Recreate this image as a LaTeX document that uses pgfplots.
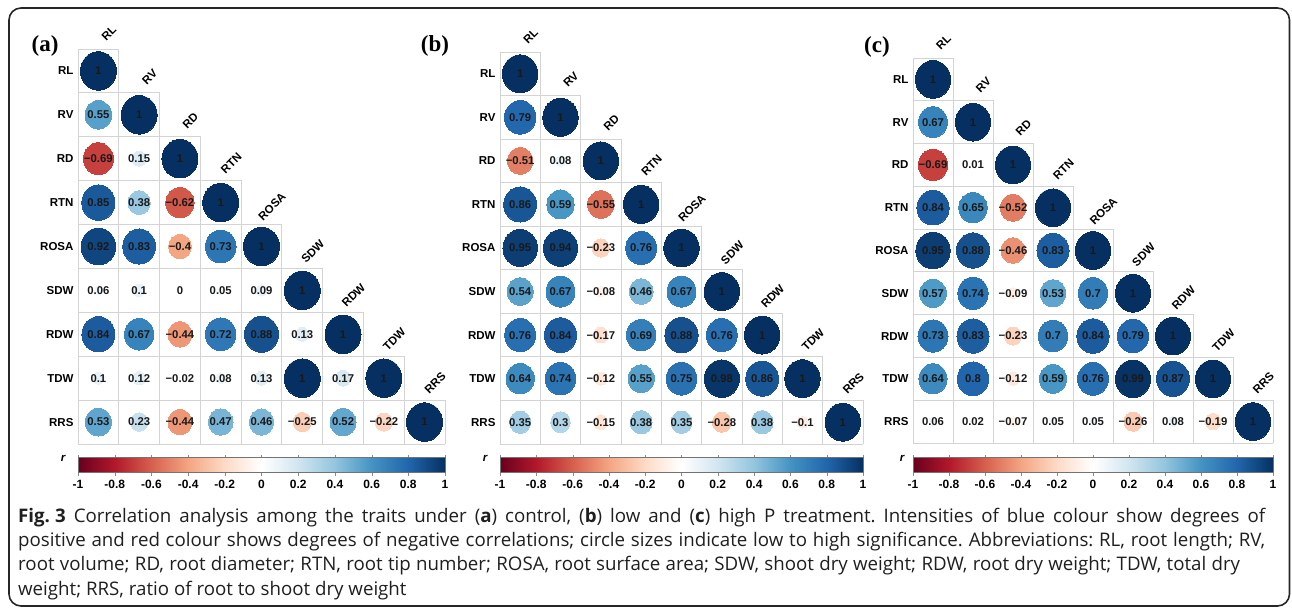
\documentclass[border=0pt]{standalone}
\usepackage{fontspec}
\setmainfont{Liberation Sans}
\newfontfamily\capfont{Open Sans}
\newfontfamily\panelfont{Liberation Serif}
\usepackage{pgfplots}
\usepackage{pgfplotstable}
\usetikzlibrary{calc}
\pgfplotsset{compat=1.18}

\pgfplotsset{colormap={rdbu}{rgb255=(103,0,31) rgb255=(178,24,43) rgb255=(214,96,77) rgb255=(244,165,130) rgb255=(253,219,199) rgb255=(255,255,255) rgb255=(209,229,240) rgb255=(146,197,222) rgb255=(67,147,195) rgb255=(33,102,172) rgb255=(5,48,97)}}

\newcommand\rowfont{\bfseries\fontsize{11.5}{12}\selectfont}
\newcommand\valfont{\bfseries\fontsize{11.3}{12}\selectfont}
\newcommand\cbfont{\bfseries\fontsize{12}{13}\selectfont}

\tikzset{
  clab/.style={rotate=45, anchor=center, font=\rowfont, inner sep=0pt},
  gridc/.style={draw=black!17, line width=0.9pt, line cap=rect},
}

\pgfplotsset{
  corrmat/.style={
    scale only axis, anchor=south west, clip=false,
    xmin=0.5, xmax=9.5, ymin=0.5, ymax=9.5,
    axis line style={draw=none}, major tick length=0pt,
    xtick=\empty, ytick={1,...,9},
    yticklabels={RRS,TDW,RDW,SDW,ROSA,RTN,RD,RV,RL},
    yticklabel style={font=\rowfont, text=black, xshift=-1pt},
    colormap name=rdbu, point meta min=-1, point meta max=1,
    colorbar horizontal,
    colorbar style={at={(parent axis.south west)}, anchor=north west, yshift=-5pt,
      scale only axis, height=15pt,
      xtick={-1,-0.8,-0.6,-0.4,-0.2,0,0.2,0.4,0.6,0.8,1},
      xticklabel style={font=\cbfont, text=black, yshift=-1pt},
      xtick align=outside, major tick length=3pt, tick style={black!45},
      axis line style={draw=black!55, line width=0.6pt},
      /pgf/number format/assume math mode=true,
      /pgf/number format/fixed, /pgf/number format/precision=1},
  },
  circ/.style={scatter, only marks, mark=*,
    point meta=\thisrow{r},
    scatter/use mapped color={draw=mapped color, fill=mapped color},
    visualization depends on={#1*sqrt(abs(\thisrow{r})) \as \rad},
    scatter/@pre marker code/.append style={/tikz/mark size=\rad},
    mark options={yscale=1.07, line width=0pt}},
  vals/.style={only marks, mark=*, mark size=0pt, mark options={draw=none, fill=none},
    nodes near coords, point meta=explicit symbolic,
    every node near coord/.append style={font=\valfont, text=black!90, anchor=center, inner sep=0pt}},
}

\newcommand\cellgrid{%
  \pgfplotsinvokeforeach{0,...,9}{%
    \draw[gridc] (axis cs:{##1+0.5},0.5) -- (axis cs:{##1+0.5},{10.5-max(##1,1)});
    \draw[gridc] (axis cs:0.5,{9.5-##1}) -- (axis cs:{min(##1+1,9)+0.5},{9.5-##1});
  }}
\newcommand\collabels{%
  \node[clab] at ($(axis cs:1,9.5)+(10.5pt,16pt)$) {RL};
  \node[clab] at ($(axis cs:2,8.5)+(10.5pt,16pt)$) {RV};
  \node[clab] at ($(axis cs:3,7.5)+(10.5pt,16pt)$) {RD};
  \node[clab] at ($(axis cs:4,6.5)+(10.5pt,17pt)$) {RTN};
  \node[clab] at ($(axis cs:5,5.5)+(10.5pt,18pt)$) {ROSA};
  \node[clab] at ($(axis cs:6,4.5)+(10.5pt,17pt)$) {SDW};
  \node[clab] at ($(axis cs:7,3.5)+(10.5pt,17pt)$) {RDW};
  \node[clab] at ($(axis cs:8,2.5)+(10.5pt,17pt)$) {TDW};
  \node[clab] at ($(axis cs:9,1.5)+(10.5pt,17pt)$) {RRS};}

% columns: c = column, rw = row (1 = RL at top), r = correlation, lab = printed value
\pgfplotstableread{
c rw r lab
1 1 1 1
1 2 0.55 0.55
2 2 1 1
1 3 -0.69 −0.69
2 3 0.15 0.15
3 3 1 1
1 4 0.85 0.85
2 4 0.38 0.38
3 4 -0.62 −0.62
4 4 1 1
1 5 0.92 0.92
2 5 0.83 0.83
3 5 -0.4 −0.4
4 5 0.73 0.73
5 5 1 1
1 6 0.06 0.06
2 6 0.1 0.1
3 6 0 0
4 6 0.05 0.05
5 6 0.09 0.09
6 6 1 1
1 7 0.84 0.84
2 7 0.67 0.67
3 7 -0.44 −0.44
4 7 0.72 0.72
5 7 0.88 0.88
6 7 0.13 0.13
7 7 1 1
1 8 0.1 0.1
2 8 0.12 0.12
3 8 -0.02 −0.02
4 8 0.08 0.08
5 8 0.13 0.13
6 8 1 1
7 8 0.17 0.17
8 8 1 1
1 9 0.53 0.53
2 9 0.23 0.23
3 9 -0.44 −0.44
4 9 0.47 0.47
5 9 0.46 0.46
6 9 -0.25 −0.25
7 9 0.52 0.52
8 9 -0.22 −0.22
9 9 1 1
}\tabA

\pgfplotstableread{
c rw r lab
1 1 1 1
1 2 0.79 0.79
2 2 1 1
1 3 -0.51 −0.51
2 3 0.08 0.08
3 3 1 1
1 4 0.86 0.86
2 4 0.59 0.59
3 4 -0.55 −0.55
4 4 1 1
1 5 0.95 0.95
2 5 0.94 0.94
3 5 -0.23 −0.23
4 5 0.76 0.76
5 5 1 1
1 6 0.54 0.54
2 6 0.67 0.67
3 6 -0.08 −0.08
4 6 0.46 0.46
5 6 0.67 0.67
6 6 1 1
1 7 0.76 0.76
2 7 0.84 0.84
3 7 -0.17 −0.17
4 7 0.69 0.69
5 7 0.88 0.88
6 7 0.76 0.76
7 7 1 1
1 8 0.64 0.64
2 8 0.74 0.74
3 8 -0.12 −0.12
4 8 0.55 0.55
5 8 0.75 0.75
6 8 0.98 0.98
7 8 0.86 0.86
8 8 1 1
1 9 0.35 0.35
2 9 0.3 0.3
3 9 -0.15 −0.15
4 9 0.38 0.38
5 9 0.35 0.35
6 9 -0.28 −0.28
7 9 0.38 0.38
8 9 -0.1 −0.1
9 9 1 1
}\tabB

\pgfplotstableread{
c rw r lab
1 1 1 1
1 2 0.67 0.67
2 2 1 1
1 3 -0.69 −0.69
2 3 0.01 0.01
3 3 1 1
1 4 0.84 0.84
2 4 0.65 0.65
3 4 -0.52 −0.52
4 4 1 1
1 5 0.95 0.95
2 5 0.88 0.88
3 5 -0.46 −0.46
4 5 0.83 0.83
5 5 1 1
1 6 0.57 0.57
2 6 0.74 0.74
3 6 -0.09 −0.09
4 6 0.53 0.53
5 6 0.7 0.7
6 6 1 1
1 7 0.73 0.73
2 7 0.83 0.83
3 7 -0.23 −0.23
4 7 0.7 0.7
5 7 0.84 0.84
6 7 0.79 0.79
7 7 1 1
1 8 0.64 0.64
2 8 0.8 0.8
3 8 -0.12 −0.12
4 8 0.59 0.59
5 8 0.76 0.76
6 8 0.99 0.99
7 8 0.87 0.87
8 8 1 1
1 9 0.06 0.06
2 9 0.02 0.02
3 9 -0.07 −0.07
4 9 0.05 0.05
5 9 0.05 0.05
6 9 -0.26 −0.26
7 9 0.08 0.08
8 9 -0.19 −0.19
9 9 1 1
}\tabC

\begin{document}
\frenchspacing
\begin{tikzpicture}[x=1pt,y=1pt]
\path[use as bounding box] (0,0) rectangle (1292,611);
\draw[line width=1.6pt, black!85, rounded corners=12pt] (9,5) rectangle (1289.5,603);

% panel (a)
\begin{axis}[corrmat, at={(78pt,167pt)}, width=367pt, height=395pt,
  colorbar style={width=367pt}]
  \cellgrid
  \addplot[circ=18] table[x=c, y expr=10-\thisrow{rw}] {\tabA};
  \addplot[vals] table[x=c, y expr=10-\thisrow{rw}, meta=lab] {\tabA};
  \collabels
\end{axis}

% panel (b)
\begin{axis}[corrmat, at={(500pt,167pt)}, width=363pt, height=392pt,
  colorbar style={width=363pt}]
  \cellgrid
  \addplot[circ=17.7] table[x=c, y expr=10-\thisrow{rw}] {\tabB};
  \addplot[vals] table[x=c, y expr=10-\thisrow{rw}, meta=lab] {\tabB};
  \collabels
\end{axis}

% panel (c)
\begin{axis}[corrmat, at={(913pt,168pt)}, width=360pt, height=385pt,
  colorbar style={width=360pt, yshift=-1pt}]
  \cellgrid
  \addplot[circ=17.6] table[x=c, y expr=10-\thisrow{rw}] {\tabC};
  \addplot[vals] table[x=c, y expr=10-\thisrow{rw}, meta=lab] {\tabC};
  \collabels
\end{axis}

\node[font=\bfseries\itshape\fontsize{11.5}{11}\selectfont] at (63,153) {r};
\node[font=\bfseries\itshape\fontsize{11.5}{11}\selectfont] at (485,153) {r};
\node[font=\bfseries\itshape\fontsize{11.5}{11}\selectfont] at (902,153) {r};

\node[font=\panelfont\bfseries\fontsize{23}{23}\selectfont] at (45,565) {(a)};
\node[font=\panelfont\bfseries\fontsize{23}{23}\selectfont] at (435,565) {(b)};
\node[font=\panelfont\bfseries\fontsize{23}{23}\selectfont] at (877,564) {(c)};

\node[anchor=base west, inner sep=0pt, align=left, text=black!88,
  font=\capfont\fontsize{18.7}{24.3}\selectfont] at (18,16)
 {\makebox[1247pt][s]{\textbf{Fig.\hspace{0.27em}3} Correlation analysis among the traits under (\textbf{a}) control, (\textbf{b}) low and (\textbf{c}) high P treatment. Intensities of blue colour show degrees of}\\
  \makebox[1247pt][s]{positive and red colour shows degrees of negative correlations; circle sizes indicate low to high significance. Abbreviations: RL, root length; RV,}\\
  \makebox[1222pt][s]{root volume; RD, root diameter; RTN, root tip number; ROSA, root surface area; SDW, shoot dry weight; RDW, root dry weight; TDW, total dry}\\
  weight; RRS, ratio of root to shoot dry weight};
\end{tikzpicture}
\end{document}
